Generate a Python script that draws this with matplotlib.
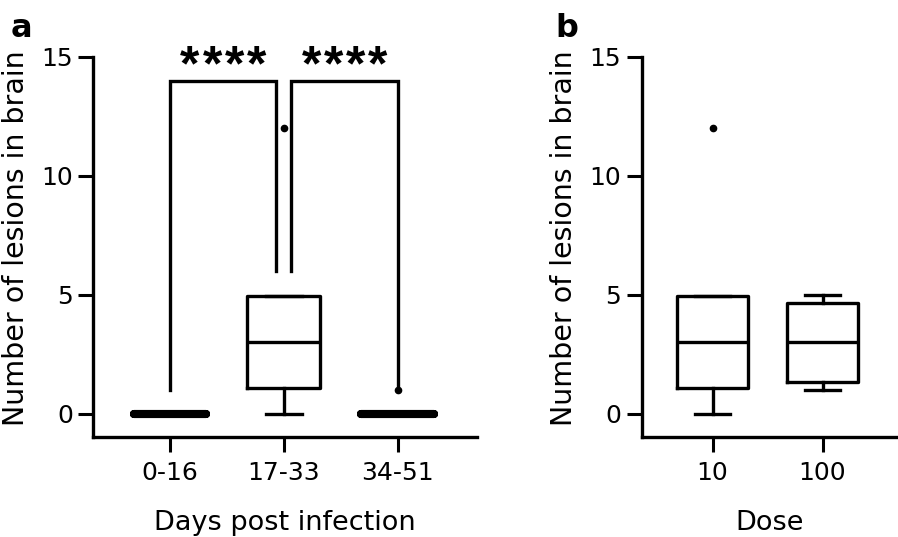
import matplotlib

matplotlib.use("Agg")
import matplotlib.pyplot as plt

plt.rcParams["font.family"] = ["DejaVu Sans"]

# panel a: lesions by days post infection (box summary)
days_labels = ["0-16", "17-33", "34-51"]
days_median = [0, 3, 0]
days_q1 = [0, 1.1, 0]
days_q3 = [0, 4.95, 0]
days_whislo = [0, 0, 0]
days_whishi = [0, 4.95, 0]
days_outliers = [[], [12], [1]]

# significance brackets: (left group, right group), leg bottoms, label
sig_pairs = [(0, 1), (1, 2)]
sig_leg_bottoms = [(1, 6), (6, 1)]
sig_top = 14
sig_labels = ["****", "****"]

# panel b: lesions by dose
dose_labels = ["10", "100"]
dose_median = [3, 3]
dose_q1 = [1.1, 1.35]
dose_q3 = [4.95, 4.65]
dose_whislo = [0, 1]
dose_whishi = [4.95, 5]
dose_outliers = [[12], []]

LW = 2.4
FONT_TICK = 18
FIG_W, FIG_H, DPI = 8.98, 5.37, 100
YLABEL_OFFSET_PX = 63.5  # from the y spine to the label's baseline side


def make_stats(med, q1, q3, lo, hi, fliers):
    return [
        dict(med=m, q1=a, q3=b, whislo=l, whishi=h, fliers=f)
        for m, a, b, l, h, f in zip(med, q1, q3, lo, hi, fliers)
    ]


def draw_boxes(ax, stats):
    line = dict(color="black", linewidth=LW)
    res = ax.bxp(
        stats,
        positions=range(len(stats)),
        widths=0.64,
        capwidths=0.32,
        boxprops=line,
        medianprops=line,
        whiskerprops=line,
        capprops=line,
        flierprops=dict(marker="o", markersize=4.5, markerfacecolor="black",
                        markeredgecolor="black"),
    )
    # boxes with all values equal collapse into one heavy bar
    for i, s in enumerate(stats):
        if s["q1"] == s["q3"]:
            for art in (res["boxes"][i], res["medians"][i]):
                art.set_linewidth(5.8)
                art.set_solid_capstyle("round")


def style_axes(ax, labels, xlim, xlabel, width_frac):
    ax.set_ylim(-1, 15)
    ax.set_yticks([0, 5, 10, 15])
    ax.set_xlim(*xlim)
    ax.set_xticks(range(len(labels)))
    ax.set_xticklabels(labels)
    for side in ("top", "right"):
        ax.spines[side].set_visible(False)
    for side in ("left", "bottom"):
        ax.spines[side].set_linewidth(LW)
    ax.tick_params(length=10.8, width=2.2, labelsize=FONT_TICK, pad=4)
    ax.tick_params(axis="x", pad=6)
    ax.set_ylabel("Number of lesions in brain", fontsize=20.5)
    ax.yaxis.set_label_coords(-YLABEL_OFFSET_PX / (width_frac * FIG_W * DPI), 0.525)
    ax.set_xlabel(xlabel, fontsize=19.5, labelpad=18)


fig = plt.figure(figsize=(FIG_W, FIG_H), dpi=DPI)
rect_a = [0.1041, 0.1853, 0.4267, 0.7086]
rect_b = [0.7146, 0.1853, 0.284, 0.7086]
ax_a = fig.add_axes(rect_a)
ax_b = fig.add_axes(rect_b)

draw_boxes(ax_a, make_stats(days_median, days_q1, days_q3, days_whislo,
                            days_whishi, days_outliers))
style_axes(ax_a, days_labels, (-0.672, 2.694), "Days post infection", rect_a[2])

gap = 0.065
star_step = 0.195
for (g0, g1), (b0, b1), lab in zip(sig_pairs, sig_leg_bottoms, sig_labels):
    x0 = g0 + (gap if g0 == 1 else 0)
    x1 = g1 - (gap if g1 == 1 else 0)
    ax_a.plot([x0, x0, x1, x1], [b0, sig_top, sig_top, b1], color="black",
              linewidth=LW, clip_on=False, solid_joinstyle="miter")
    mid = (x0 + x1) / 2
    for k, ch in enumerate(lab):
        ax_a.text(mid + (k - (len(lab) - 1) / 2) * star_step, sig_top, ch,
                  ha="center", va="baseline", fontsize=36, fontweight="bold",
                  family="Liberation Sans")

draw_boxes(ax_b, make_stats(dose_median, dose_q1, dose_q3, dose_whislo,
                            dose_whishi, dose_outliers))
style_axes(ax_b, dose_labels, (-0.645, 1.675), "Dose", rect_b[2])

fig.text(0.0123, 0.931, "a", fontsize=23, fontweight="bold", va="baseline")
fig.text(0.618, 0.931, "b", fontsize=23, fontweight="bold", va="baseline")

fig.savefig("out.png", dpi=DPI)
plt.close(fig)
